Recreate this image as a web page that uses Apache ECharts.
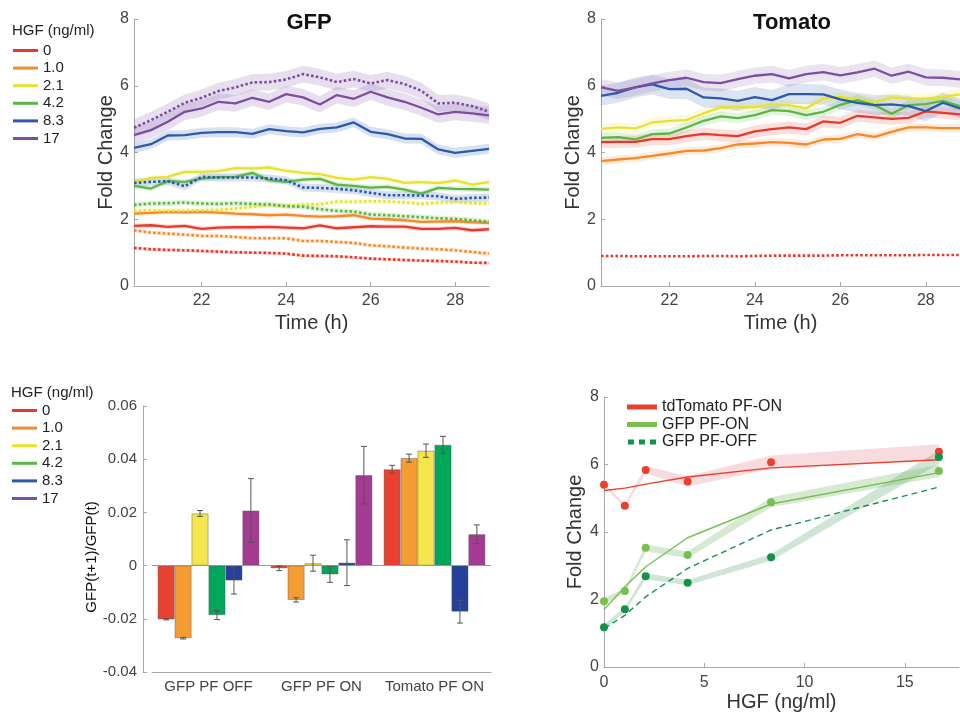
<!DOCTYPE html>
<html>
<head>
<meta charset="utf-8">
<script src="https://cdn.jsdelivr.net/npm/echarts@6/dist/echarts.min.js"></script>
<style>
html,body{margin:0;padding:0;background:#fff;}
#main{width:960px;height:715px;}
</style>
</head>
<body>
<div id="main"></div>
<script>
// ---- data ----
var hours = [20.4,20.8,21.2,21.6,22.0,22.4,22.8,23.2,23.6,24.0,24.4,24.8,25.2,25.6,26.0,26.4,26.8,27.2,27.6,28.0,28.4,28.8];
var hgfLabels = ['0','1.0','2.1','4.2','8.3','17'];

// GFP fold change, PF ON (solid) and PF OFF (dotted), one row per HGF dose
var gfpOn = [
  [1.80,1.82,1.77,1.80,1.71,1.75,1.76,1.76,1.77,1.75,1.73,1.82,1.73,1.76,1.79,1.78,1.78,1.71,1.71,1.74,1.67,1.70],
  [2.17,2.19,2.22,2.21,2.22,2.20,2.17,2.15,2.12,2.14,2.10,2.08,2.09,2.12,2.02,2.00,1.97,1.92,1.93,1.94,1.91,1.89],
  [3.12,3.24,3.27,3.42,3.42,3.44,3.53,3.52,3.55,3.45,3.39,3.35,3.24,3.19,3.26,3.21,3.09,3.11,3.08,3.16,3.04,3.11],
  [3.00,2.92,3.14,3.12,3.22,3.26,3.27,3.39,3.17,3.12,3.19,3.21,3.04,3.00,2.95,2.97,2.89,2.77,2.94,2.91,2.90,2.89],
  [4.14,4.25,4.51,4.52,4.59,4.61,4.61,4.56,4.70,4.64,4.60,4.71,4.75,4.90,4.62,4.55,4.42,4.41,4.09,3.99,4.05,4.11],
  [4.52,4.67,4.92,5.22,5.32,5.52,5.47,5.64,5.52,5.75,5.65,5.44,5.72,5.61,5.82,5.65,5.52,5.34,5.14,5.22,5.17,5.11]
];
var gfpOff = [
  [1.14,1.10,1.08,1.07,1.05,1.03,1.01,1.00,0.99,0.97,0.91,0.90,0.89,0.86,0.82,0.80,0.78,0.76,0.75,0.73,0.70,0.69],
  [1.67,1.60,1.57,1.54,1.50,1.50,1.47,1.43,1.43,1.43,1.35,1.35,1.32,1.29,1.22,1.19,1.15,1.12,1.10,1.07,1.02,0.97],
  [2.25,2.27,2.25,2.26,2.27,2.28,2.32,2.37,2.43,2.41,2.44,2.45,2.53,2.52,2.54,2.53,2.51,2.46,2.50,2.52,2.48,2.47],
  [2.43,2.47,2.48,2.50,2.47,2.46,2.48,2.46,2.44,2.39,2.37,2.30,2.25,2.23,2.14,2.12,2.09,2.06,2.03,2.01,1.97,1.92],
  [3.09,3.12,3.14,2.99,3.27,3.25,3.25,3.25,3.22,3.17,2.95,2.94,2.91,2.87,2.79,2.72,2.72,2.71,2.69,2.61,2.64,2.65],
  [4.74,4.97,5.22,5.49,5.64,5.84,5.95,6.10,6.11,6.19,6.35,6.25,6.11,6.20,6.07,6.17,6.05,5.85,5.47,5.49,5.39,5.22]
];
var gfpErrOn  = [0.07, 0.07, 0.08, 0.08, 0.15, 0.25];
var gfpErrOff = [0.05, 0.06, 0.08, 0.08, 0.12, 0.25];

// Tomato fold change, PF ON
var tomOn = [
  [4.31,4.32,4.32,4.40,4.40,4.49,4.56,4.52,4.49,4.63,4.70,4.75,4.70,4.93,4.89,5.10,5.05,5.01,5.04,5.23,5.19,5.14],
  [3.74,3.79,3.83,3.90,3.97,4.05,4.06,4.13,4.24,4.27,4.31,4.29,4.24,4.39,4.41,4.55,4.47,4.62,4.75,4.75,4.73,4.73],
  [4.71,4.75,4.72,4.90,4.95,4.97,5.17,5.35,5.37,5.35,5.45,5.42,5.32,5.62,5.67,5.59,5.50,5.65,5.61,5.61,5.67,5.74],
  [4.44,4.46,4.39,4.55,4.57,4.75,4.95,5.08,5.03,5.12,5.27,5.24,5.12,5.22,5.43,5.57,5.42,5.16,5.42,5.45,5.55,5.39],
  [5.70,5.79,5.95,6.04,5.90,5.91,5.65,5.62,5.55,5.66,5.57,5.75,5.75,5.74,5.59,5.49,5.42,5.44,5.39,5.24,5.49,5.32],
  [5.95,5.85,5.95,6.07,6.17,6.24,6.11,6.08,6.20,6.30,6.35,6.22,6.35,6.41,6.31,6.40,6.51,6.30,6.42,6.25,6.24,6.19]
];
var tomErr = [0.18, 0.12, 0.15, 0.15, 0.30, 0.25];
var tomOffCtrl = [0.90,0.90,0.89,0.89,0.89,0.89,0.90,0.90,0.89,0.90,0.91,0.91,0.91,0.91,0.92,0.92,0.92,0.92,0.92,0.93,0.93,0.93];

// bar chart: rows = HGF dose, columns = barCats
var barCats = ['GFP PF OFF','GFP PF ON','Tomato PF ON'];
var barVals = [
  [-0.0202,-0.0010, 0.0362],
  [-0.0273,-0.0129, 0.0404],
  [ 0.0196, 0.0009, 0.0432],
  [-0.0186,-0.0033, 0.0454],
  [-0.0056, 0.0011,-0.0173],
  [ 0.0207, 0.0340, 0.0118]
];
var barErr = [
  [0.0002,0.0009,0.0015],
  [0.0003,0.0008,0.0015],
  [0.0011,0.0030,0.0025],
  [0.0017,0.0030,0.0032],
  [0.0051,0.0086,0.0043],
  [0.0120,0.0108,0.0035]
];

// dose response
var doses = [0, 1.04, 2.08, 4.17, 8.33, 16.7];
var tdMean = [5.40,4.78,5.84,5.50,6.07,6.38];
var tdErr  = [0.06,0.05,0.11,0.15,0.20,0.22];
var tdFit  = [5.23,5.30,5.42,5.63,5.90,6.14];
var onMean = [1.95,2.25,3.53,3.32,4.88,5.81];
var onErr  = [0.10,0.07,0.10,0.10,0.15,0.18];
var onFit  = [1.70,2.38,2.97,3.83,4.83,5.76];
var offMean = [1.18,1.71,2.69,2.50,3.25,6.22];
var offErr  = [0.08,0.07,0.09,0.08,0.10,0.20];
var offFit  = [1.14,1.53,2.08,2.92,4.06,5.33];
var drNames = ['tdTomato PF-ON','GFP PF-ON','GFP PF-OFF'];

// ---- styles ----
var lineColors = ['#e8392c','#f58a2b','#e6e232','#5cb645','#2b5aab','#7b4ea3'];
var barColors  = ['#e8412f','#f59d33','#f5e64e','#00a65a','#24409a','#a43a91'];
var drColors   = ['#e8412f','#78c04e','#15924a'];
var axisGrey = '#a8a8a8';
var FONT = '"Liberation Sans", Arial, sans-serif';

function rgba(hex, a){
    var n = parseInt(hex.slice(1), 16);
    return 'rgba(' + (n >> 16) + ',' + ((n >> 8) & 255) + ',' + (n & 255) + ',' + a + ')';
}
function pairs(xs, ys){
    return xs.map(function(x, i){ return [x, ys[i]]; });
}
// shaded band as one polygon
function band(ax, xs, ys, err, color){
    var data = xs.map(function(x, i){
        var e = Array.isArray(err) ? err[i] : err;
        return [x, ys[i] - e, ys[i] + e];
    });
    return {
        type: 'custom', xAxisIndex: ax, yAxisIndex: ax, silent: true, z: 1,
        encode: {x: 0, y: [1, 2]},
        data: data,
        renderItem: function(params, api){
            if (params.dataIndex !== 0) return;
            var top = [], bot = [];
            data.forEach(function(d){
                top.push(api.coord([d[0], d[2]]));
                bot.push(api.coord([d[0], d[1]]));
            });
            return {type: 'polygon', shape: {points: top.concat(bot.reverse())}, style: {fill: color}};
        }
    };
}
function axis(o){
    var a = {
        nameLocation: 'middle',
        nameTextStyle: {color: '#333', fontSize: 20, fontFamily: FONT},
        axisLine: {show: true, onZero: false, lineStyle: {color: axisGrey, width: 1}},
        axisTick: {show: true, inside: true, length: 4, lineStyle: {color: axisGrey}},
        axisLabel: {color: '#444', fontSize: 16, fontFamily: FONT},
        splitLine: {show: false}
    };
    for (var k in o) {
        if (typeof o[k] === 'object' && a[k] && !Array.isArray(o[k])) {
            for (var j in o[k]) a[k][j] = o[k][j];
        } else a[k] = o[k];
    }
    return a;
}

var series = [];

// top-left GFP panel
hgfLabels.forEach(function(lab, i){
    series.push({
        name: lab, type: 'line', xAxisIndex: 0, yAxisIndex: 0, symbol: 'none', z: 4,
        data: pairs(hours, gfpOn[i]),
        lineStyle: {color: lineColors[i], width: 2.3},
        itemStyle: {color: lineColors[i]}
    });
});
hgfLabels.forEach(function(lab, i){
    series.push({
        name: 'off ' + lab, type: 'line', xAxisIndex: 0, yAxisIndex: 0, symbol: 'none', z: 4,
        data: pairs(hours, gfpOff[i]),
        lineStyle: {color: lineColors[i], width: 2.6, type: [2.6, 2.2]},
        itemStyle: {color: lineColors[i]}
    });
    series.push(band(0, hours, gfpOn[i], gfpErrOn[i], rgba(lineColors[i], 0.18)));
    series.push(band(0, hours, gfpOff[i], gfpErrOff[i], rgba(lineColors[i], 0.18)));
});

// top-right Tomato panel
hgfLabels.forEach(function(lab, i){
    series.push({
        name: 'tomato ' + lab, type: 'line', xAxisIndex: 1, yAxisIndex: 1, symbol: 'none', z: 4,
        data: pairs(hours, tomOn[i]),
        lineStyle: {color: lineColors[i], width: 2.3},
        itemStyle: {color: lineColors[i]}
    });
    series.push(band(1, hours, tomOn[i], tomErr[i], rgba(lineColors[i], 0.16)));
});
series.push({
    name: 'tomato off 0', type: 'line', xAxisIndex: 1, yAxisIndex: 1, symbol: 'none', z: 4,
    data: pairs(hours, tomOffCtrl),
    lineStyle: {color: lineColors[0], width: 2.6, type: [2.6, 2.2]}
});

// bottom-left bar chart
hgfLabels.forEach(function(lab, i){
    var s = {
        name: 'bar ' + lab, type: 'bar', xAxisIndex: 2, yAxisIndex: 2,
        data: barVals[i], barGap: '0%', barCategoryGap: '10%', z: 2,
        itemStyle: {color: barColors[i], borderColor: 'rgba(90,90,90,0.55)', borderWidth: 0.8}
    };
    if (i === 0) {
        s.markLine = {
            silent: true, symbol: 'none', label: {show: false},
            lineStyle: {color: '#999', width: 1, type: 'solid'},
            data: [{yAxis: 0}]
        };
    }
    series.push(s);
});
var errData = [];
barVals.forEach(function(row, k){
    row.forEach(function(v, c){
        errData.push([c, v - barErr[k][c], v + barErr[k][c], k]);
    });
});
series.push({
    type: 'custom', xAxisIndex: 2, yAxisIndex: 2, silent: true, z: 5,
    encode: {x: 0, y: [1, 2]},
    data: errData,
    renderItem: function(params, api){
        var c = api.value(0), k = api.value(3);
        var bw = api.size([1, 0])[0] * 0.9 / 6;
        var p1 = api.coord([c, api.value(1)]);
        var p2 = api.coord([c, api.value(2)]);
        var x = p1[0] + (k - 2.5) * bw;
        var st = {stroke: '#555', lineWidth: 1};
        return {type: 'group', children: [
            {type: 'line', shape: {x1: x, y1: p1[1], x2: x, y2: p2[1]}, style: st},
            {type: 'line', shape: {x1: x - 3, y1: p1[1], x2: x + 3, y2: p1[1]}, style: st},
            {type: 'line', shape: {x1: x - 3, y1: p2[1], x2: x + 3, y2: p2[1]}, style: st}
        ]};
    }
});

// bottom-right dose response
var drMeans = [tdMean, onMean, offMean];
var drErrs = [tdErr, onErr, offErr];
var drFits = [tdFit, onFit, offFit];
var bandColors = ['rgba(220,90,110,0.22)', 'rgba(110,175,95,0.28)', 'rgba(90,160,110,0.28)'];
drNames.forEach(function(nm, i){
    series.push(band(3, doses, drMeans[i], drErrs[i], bandColors[i]));
    series.push({
        name: nm, type: 'line', xAxisIndex: 3, yAxisIndex: 3, symbol: 'none', z: 4,
        data: pairs(doses, drFits[i]),
        lineStyle: {color: drColors[i], width: 1.4, type: i === 2 ? [6, 4] : 'solid'},
        itemStyle: {color: drColors[i]}
    });
    series.push({
        name: nm + ' pts', type: 'scatter', xAxisIndex: 3, yAxisIndex: 3, z: 5,
        symbolSize: 8, data: pairs(doses, drMeans[i]),
        itemStyle: {color: drColors[i], opacity: 1}
    });
});

var legendText = {color: '#222', fontSize: 15, lineHeight: 15, fontFamily: FONT};
var option = {
    animation: false,
    textStyle: {fontFamily: FONT},
    grid: [
        {left: 134, top: 19, width: 355, height: 267},
        {left: 601, top: 19, width: 359, height: 267},
        {left: 152, top: 406, width: 339, height: 266},
        {left: 604, top: 397, width: 355, height: 270}
    ],
    xAxis: [
        axis({type: 'value', gridIndex: 0, min: 20.4, max: 28.8, name: 'Time (h)', nameGap: 27,
              axisLabel: {showMinLabel: false, showMaxLabel: false, margin: 7}}),
        axis({type: 'value', gridIndex: 1, min: 20.4, max: 28.8, name: 'Time (h)', nameGap: 27,
              axisLabel: {showMinLabel: false, showMaxLabel: false, margin: 7}}),
        axis({type: 'category', gridIndex: 2, data: barCats, boundaryGap: true,
              axisTick: {show: false}, axisLabel: {fontSize: 15, margin: 7, interval: 0, hideOverlap: false}}),
        axis({type: 'value', gridIndex: 3, min: 0, max: 17.7, interval: 5, name: 'HGF (ng/ml)', nameGap: 25,
              axisLabel: {showMaxLabel: false, margin: 8}})
    ],
    yAxis: [
        axis({type: 'value', gridIndex: 0, min: 0, max: 8, interval: 2, name: 'Fold Change', nameGap: 17,
              axisLabel: {margin: 5}}),
        axis({type: 'value', gridIndex: 1, min: 0, max: 8, interval: 2, name: 'Fold Change', nameGap: 16,
              axisLabel: {margin: 5}}),
        axis({type: 'value', gridIndex: 2, min: -0.04, max: 0.06, interval: 0.02, offset: 9,
              name: 'GFP(t+1)/GFP(t)', nameGap: 39,
              nameTextStyle: {color: '#111', fontSize: 15, padding: [0, 36, 0, 0]},
              axisLabel: {fontSize: 15, margin: 6, formatter: function(v){
                  return Math.abs(v) < 1e-9 ? '0' : v.toFixed(2);
              }}}),
        axis({type: 'value', gridIndex: 3, min: 0, max: 8, interval: 2, name: 'Fold Change', nameGap: 19,
              axisLabel: {margin: 5}})
    ],
    legend: [
        {orient: 'vertical', left: 13, top: 43, padding: 0, itemGap: 2.6, itemWidth: 25, itemHeight: 3,
         icon: 'rect', selectedMode: false, textStyle: legendText, data: hgfLabels},
        {orient: 'vertical', left: 12, top: 403, padding: 0, itemGap: 2.6, itemWidth: 25, itemHeight: 3,
         icon: 'rect', selectedMode: false, textStyle: legendText, data: hgfLabels},
        {orient: 'vertical', left: 627, top: 399, padding: 0, itemGap: 1.5, itemWidth: 30, itemHeight: 5,
         selectedMode: false, textStyle: {color: '#222', fontSize: 16, lineHeight: 16, fontFamily: FONT},
         data: [
             {name: drNames[0], icon: 'rect'},
             {name: drNames[1], icon: 'rect'},
             {name: drNames[2], icon: 'path://M0,0h6v5h-6z M11,0h6v5h-6z M22,0h6v5h-6z'}
         ]}
    ],
    graphic: [
        {type: 'text', x: 309, y: 23, style: {text: 'GFP', font: 'bold 22px ' + FONT, fill: '#111', align: 'center', verticalAlign: 'middle'}},
        {type: 'text', x: 792, y: 23, style: {text: 'Tomato', font: 'bold 22px ' + FONT, fill: '#111', align: 'center', verticalAlign: 'middle'}},
        {type: 'text', x: 12, y: 31, style: {text: 'HGF (ng/ml)', font: '15px ' + FONT, fill: '#222', align: 'left', verticalAlign: 'middle'}},
        {type: 'text', x: 11, y: 393, style: {text: 'HGF (ng/ml)', font: '15px ' + FONT, fill: '#222', align: 'left', verticalAlign: 'middle'}}
    ],
    series: series
};

var chart = echarts.init(document.getElementById('main'));
chart.setOption(option);
</script>
</body>
</html>
